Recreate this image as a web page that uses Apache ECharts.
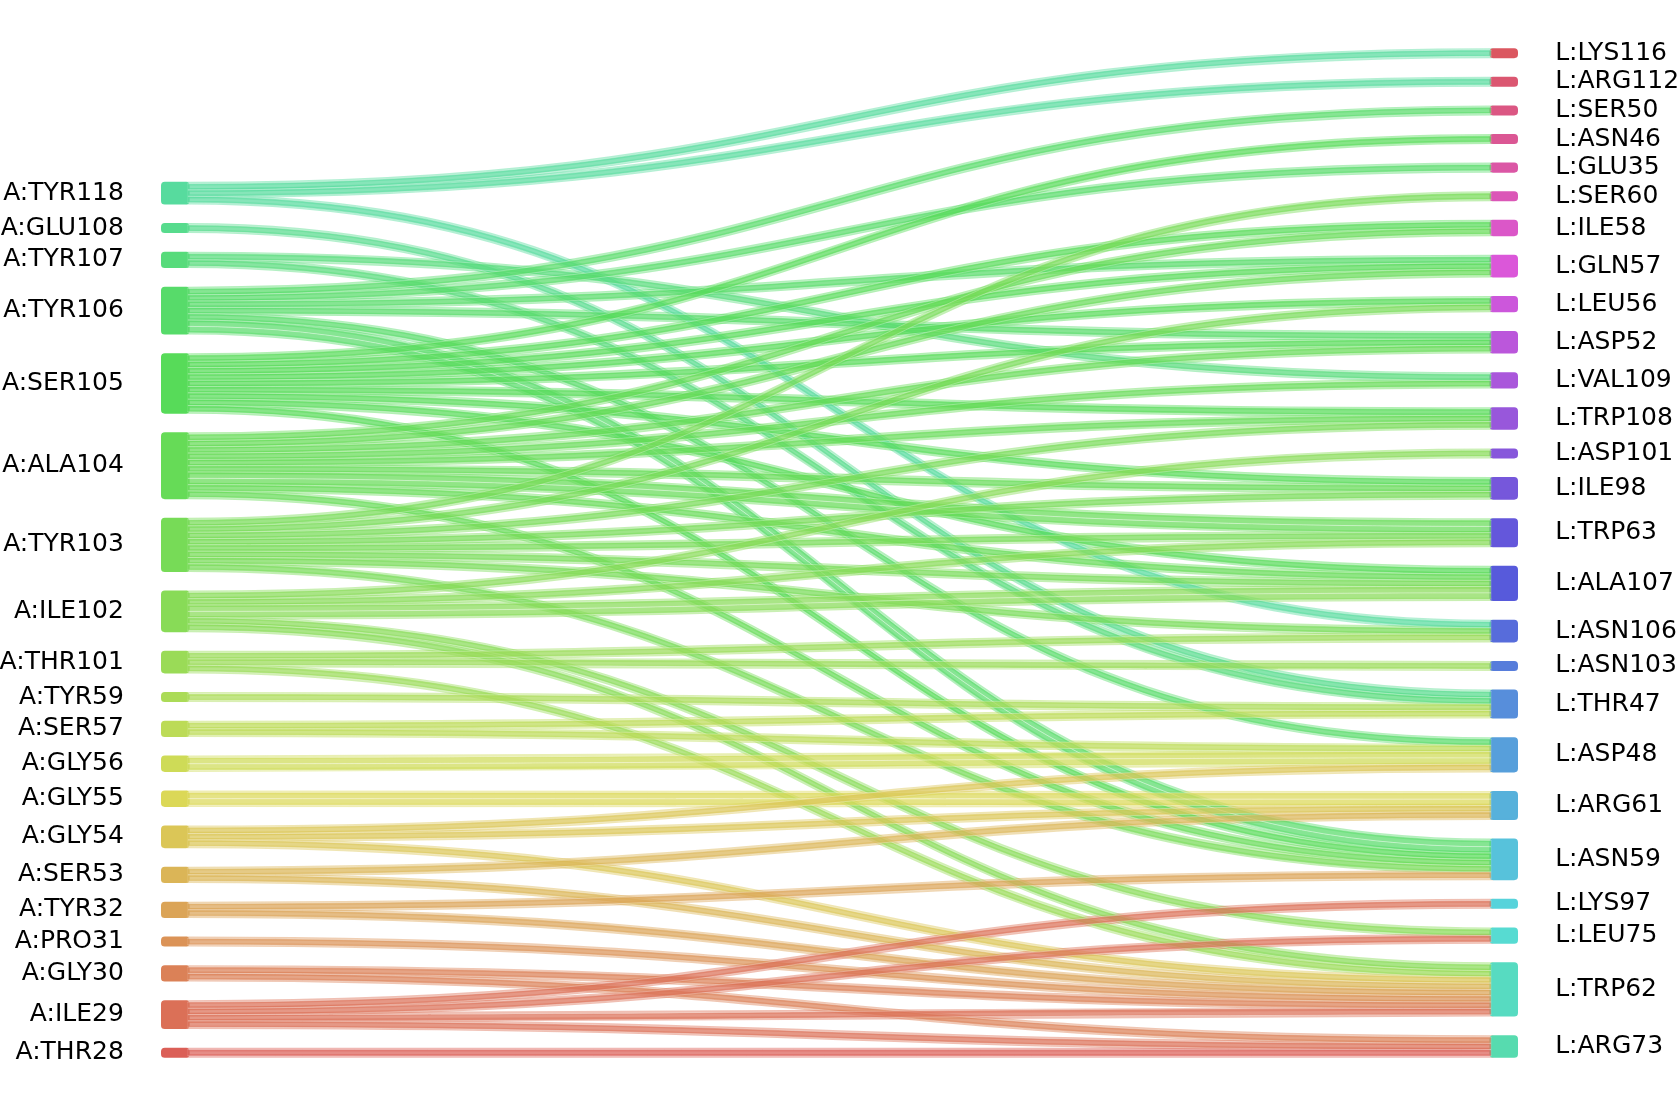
<!DOCTYPE html>
<html><head><meta charset="utf-8">
<script src="https://cdn.jsdelivr.net/npm/echarts@6/dist/echarts.min.js"></script>
<style>html,body{margin:0;padding:0;background:#fff}#c{width:1678px;height:1108px}</style>
</head><body><div id="c"></div>
<script>
// Left (source) residues, top to bottom
const leftNodes = ['A:TYR118','A:GLU108','A:TYR107','A:TYR106','A:SER105','A:ALA104','A:TYR103','A:ILE102','A:THR101','A:TYR59','A:SER57','A:GLY56','A:GLY55','A:GLY54','A:SER53','A:TYR32','A:PRO31','A:GLY30','A:ILE29','A:THR28'];
// Right (target) residues, top to bottom
const rightNodes = ['L:LYS116','L:ARG112','L:SER50','L:ASN46','L:GLU35','L:SER60','L:ILE58','L:GLN57','L:LEU56','L:ASP52','L:VAL109','L:TRP108','L:ASP101','L:ILE98','L:TRP63','L:ALA107','L:ASN106','L:ASN103','L:THR47','L:ASP48','L:ARG61','L:ASN59','L:LYS97','L:LEU75','L:TRP62','L:ARG73'];
// Contacts: [source, target, count]
const links = [
  ['A:TYR118','L:LYS116',1],['A:TYR118','L:ARG112',1],['A:TYR118','L:ASN106',1],
  ['A:GLU108','L:THR47',1],
  ['A:TYR107','L:VAL109',1],['A:TYR107','L:THR47',1],
  ['A:TYR106','L:SER50',1],['A:TYR106','L:GLU35',1],['A:TYR106','L:GLN57',1],['A:TYR106','L:ASP52',1],['A:TYR106','L:ASP48',1],['A:TYR106','L:ASN59',2],
  ['A:SER105','L:ASN46',1],['A:SER105','L:ILE58',1],['A:SER105','L:GLN57',1],['A:SER105','L:LEU56',1],['A:SER105','L:ASP52',1],['A:SER105','L:TRP108',1],['A:SER105','L:ILE98',1],['A:SER105','L:ALA107',1],['A:SER105','L:ASN59',1],
  ['A:ALA104','L:ILE58',1],['A:ALA104','L:GLN57',1],['A:ALA104','L:ASP52',1],['A:ALA104','L:VAL109',1],['A:ALA104','L:TRP108',1],['A:ALA104','L:ILE98',1],['A:ALA104','L:TRP63',2],['A:ALA104','L:ALA107',1],['A:ALA104','L:ASN59',1],
  ['A:TYR103','L:SER60',1],['A:TYR103','L:LEU56',1],['A:TYR103','L:TRP108',1],['A:TYR103','L:ILE98',1],['A:TYR103','L:TRP63',1],['A:TYR103','L:ALA107',1],['A:TYR103','L:ASN106',1],['A:TYR103','L:ASN59',1],
  ['A:ILE102','L:ASP101',1],['A:ILE102','L:TRP63',1],['A:ILE102','L:ALA107',2],['A:ILE102','L:LEU75',1],['A:ILE102','L:TRP62',1],
  ['A:THR101','L:ASN106',1],['A:THR101','L:ASN103',1],['A:THR101','L:TRP62',1],
  ['A:TYR59','L:THR47',1],
  ['A:SER57','L:THR47',1],['A:SER57','L:ASP48',1],
  ['A:GLY56','L:ASP48',2],
  ['A:GLY55','L:ARG61',2],
  ['A:GLY54','L:ASP48',1],['A:GLY54','L:ARG61',1],['A:GLY54','L:TRP62',1],
  ['A:SER53','L:ARG61',1],['A:SER53','L:TRP62',1],
  ['A:TYR32','L:ASN59',1],['A:TYR32','L:TRP62',1],
  ['A:PRO31','L:TRP62',1],
  ['A:GLY30','L:TRP62',1],['A:GLY30','L:ARG73',1],
  ['A:ILE29','L:LYS97',1],['A:ILE29','L:LEU75',1],['A:ILE29','L:TRP62',1],['A:ILE29','L:ARG73',1],
  ['A:THR28','L:ARG73',1]
];

(function () {
  // hls palette (seaborn style: h0=0.01, l=0.6, s=0.65)
  function hlsColor(h, l, s) {
    function v(m1, m2, hue) {
      hue = ((hue % 1) + 1) % 1;
      if (hue < 1/6) return m1 + (m2 - m1) * hue * 6;
      if (hue < 0.5) return m2;
      if (hue < 2/3) return m1 + (m2 - m1) * (2/3 - hue) * 6;
      return m1;
    }
    const m2 = l <= 0.5 ? l * (1 + s) : l + s - l * s;
    const m1 = 2 * l - m2;
    const rgb = [v(m1, m2, h + 1/3), v(m1, m2, h), v(m1, m2, h - 1/3)].map(x => Math.round(x * 255));
    return 'rgb(' + rgb.join(',') + ')';
  }
  const nTotal = leftNodes.length + rightNodes.length;
  function paletteColor(i) { return hlsColor((i / nTotal + 0.01) % 1, 0.6, 0.65); }

  const colorOf = {};
  leftNodes.forEach((n, p) => colorOf[n] = paletteColor(leftNodes.length - 1 - p));
  rightNodes.forEach((n, q) => colorOf[n] = paletteColor(nTotal - 1 - q));

  const H = 1108;
  const padTop = 50, padBottom = 52, gap = 22.3;
  const areaH = H - padTop - padBottom;
  const halo = 3.7;               // outline that thickens nodes and bands
  const padL = 161 + halo / 2, padR = 160 + halo / 2;
  const nodeW = 28.5 - halo;

  // spacer keeps the shorter left column bottom-aligned with the right column
  let totalUnits = 0;
  links.forEach(l => totalUnits += l[2]);
  const extraGaps = rightNodes.length - leftNodes.length - 1;
  const spacerValue = totalUnits * (extraGaps * gap) / (areaH - (rightNodes.length - 1) * gap) * 0.999;

  function buildNodes(withHalo, withLabel) {
    const arr = [{ name: '__spacer', value: spacerValue, depth: 0,
      itemStyle: { color: 'rgba(0,0,0,0)', borderWidth: 0 }, label: { show: false } }];
    leftNodes.concat(rightNodes).forEach((n, k) => {
      const isLeft = k < leftNodes.length;
      arr.push({
        name: n, depth: isLeft ? 0 : 1,
        itemStyle: withHalo ? { color: colorOf[n], borderColor: colorOf[n], borderWidth: halo, borderRadius: 2 }
                            : { color: colorOf[n], borderWidth: 0, borderRadius: 1 },
        label: { show: withLabel, position: isLeft ? 'left' : 'right' }
      });
    });
    return arr;
  }

  // unit strands for the top layer
  const strandLinks = [];
  links.forEach(([s, t, c]) => { for (let i = 0; i < c; i++) strandLinks.push({ source: s, target: t, value: 1 }); });
  // whole bands for the soft outline layer underneath
  const bandLinks = links.map(([s, t, c]) => ({
    source: s, target: t, value: c,
    lineStyle: { color: 'rgba(0,0,0,0)', borderColor: colorOf[s], borderWidth: halo, opacity: 0.45 }
  }));

  const common = {
    type: 'sankey',
    left: padL, right: padR, top: padTop, bottom: padBottom,
    nodeWidth: nodeW, nodeGap: gap,
    layoutIterations: 0,
    nodeAlign: 'left',
    draggable: false,
    silent: true,
    emphasis: { disabled: true }
  };

  const chart = echarts.init(document.getElementById('c'), null, { renderer: 'canvas' });
  chart.setOption({
    animation: false,
    backgroundColor: '#fff',
    series: [
      Object.assign({}, common, {
        z: 1,
        data: buildNodes(true, false),
        links: bandLinks,
        label: { show: false }
      }),
      Object.assign({}, common, {
        z: 2,
        data: buildNodes(false, true),
        links: strandLinks,
        lineStyle: { color: 'source', opacity: 0.72, curveness: 0.5, borderColor: 'rgba(255,255,255,0.4)', borderWidth: 1 },
        label: { distance: 39, fontFamily: 'DejaVu Sans', fontSize: 25, color: '#000' }
      })
    ]
  });
})();
</script>
</body></html>
